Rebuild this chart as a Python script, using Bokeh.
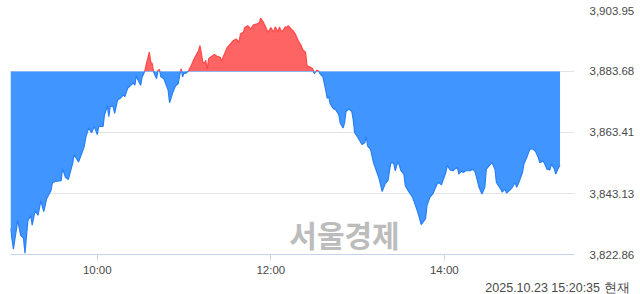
import numpy as np
from bokeh.plotting import figure
from bokeh.models import Range1d, LinearAxis, FixedTicker, NumeralTickFormatter, Label, Title
from bokeh.core.properties import value
from bokeh.embed import file_html
from bokeh.resources import INLINE

# minutes since 09:00
times = [0, 2, 5, 7, 9, 10, 12, 14, 15, 17, 19, 21, 23, 25, 28, 29, 32, 35, 36, 38,
         40, 43, 44, 47, 49, 51, 52, 54, 56, 58, 60, 61, 64, 65, 67, 68, 69, 71, 72, 74,
         76, 78, 79, 81, 82, 85, 86, 87, 88, 90, 91, 92, 93, 94, 96, 97, 98, 99, 101, 102,
         103, 104, 106, 109, 110, 112, 114, 116, 117, 118, 119, 120, 121, 123, 125, 127, 130, 131, 132, 133,
         134, 135, 136, 137, 139, 141, 143, 145, 146, 147, 148, 150, 152, 154, 156, 158, 159, 161, 162, 164,
         166, 168, 170, 172, 173, 175, 176, 178, 179, 180, 182, 183, 184, 185, 186, 187, 188, 190, 191, 192,
         194, 195, 197, 199, 201, 202, 204, 205, 207, 209, 210, 212, 213, 214, 215, 216, 218, 219, 220, 221,
         223, 225, 227, 228, 230, 231, 232, 234, 236, 237, 238, 239, 241, 243, 245, 246, 247, 249, 251, 253,
         255, 257, 259, 261, 263, 265, 266, 268, 270, 272, 273, 275, 278, 280, 282, 284, 287, 288, 290, 292,
         295, 296, 298, 299, 301, 302, 304, 306, 307, 309, 310, 312, 313, 315, 318, 319, 321, 322, 324, 326,
         328, 329, 332, 333, 335, 336, 339, 340, 342, 343, 345, 347, 349, 350, 352, 354, 355, 357, 359, 361,
         363, 365, 366, 368, 369, 371, 373, 374, 376, 377, 379, 380]

prices = [3831.5, 3824.6, 3834.2, 3829.3, 3828.2, 3823.3, 3834.1, 3835.8, 3832.6, 3837.4,
          3835.9, 3840.7, 3837.1, 3841.4, 3844.1, 3846.8, 3847.2, 3847.4, 3851.4, 3848.5,
          3847.8, 3853.2, 3856.1, 3853.6, 3856.1, 3858.8, 3861.7, 3864.9, 3863.3, 3865.4,
          3862.7, 3865.4, 3865.4, 3869.3, 3872.2, 3868.7, 3872.2, 3872.0, 3869.8, 3874.2,
          3874.8, 3875.9, 3875.3, 3878.1, 3878.6, 3879.9, 3879.1, 3882.4, 3881.0, 3879.1,
          3881.9, 3882.8, 3884.1, 3886.3, 3890.1, 3886.8, 3886.3, 3883.5, 3881.3, 3884.1,
          3884.3, 3881.9, 3881.3, 3877.5, 3873.3, 3876.4, 3878.8, 3879.7, 3882.4, 3884.6,
          3881.9, 3883.2, 3883.0, 3883.8, 3885.7, 3887.9, 3890.6, 3892.3, 3889.6, 3886.8,
          3886.3, 3887.4, 3884.3, 3887.9, 3888.7, 3889.3, 3888.7, 3888.4, 3887.1, 3888.4,
          3889.6, 3891.7, 3892.8, 3893.9, 3894.5, 3893.4, 3896.1, 3896.7, 3898.3, 3898.9,
          3897.8, 3899.2, 3899.4, 3899.9, 3901.4, 3899.9, 3898.9, 3896.7, 3897.4, 3898.3,
          3896.7, 3898.5, 3897.8, 3896.7, 3898.5, 3897.2, 3897.0, 3898.5, 3898.3, 3898.9,
          3897.8, 3897.4, 3896.1, 3893.9, 3892.3, 3890.9, 3890.1, 3885.7, 3885.2, 3884.6,
          3883.0, 3884.1, 3883.8, 3883.0, 3882.4, 3881.9, 3877.5, 3874.8, 3875.3, 3873.1,
          3871.5, 3870.9, 3869.3, 3866.6, 3864.9, 3866.6, 3870.4, 3871.2, 3870.4, 3867.6,
          3863.3, 3862.7, 3861.1, 3859.4, 3860.0, 3862.0, 3858.9, 3857.8, 3853.4, 3850.7,
          3847.9, 3843.8, 3846.3, 3847.4, 3853.4, 3853.2, 3850.7, 3853.9, 3850.7, 3849.6,
          3845.7, 3844.1, 3841.9, 3839.2, 3836.4, 3832.8, 3834.8, 3839.2, 3841.9, 3843.0,
          3846.3, 3846.8, 3846.0, 3847.4, 3850.1, 3852.5, 3851.0, 3850.7, 3851.2, 3851.8,
          3849.6, 3850.7, 3850.1, 3850.7, 3850.7, 3851.2, 3850.7, 3849.0, 3845.2, 3843.0,
          3845.2, 3851.2, 3852.9, 3853.4, 3851.2, 3846.8, 3844.6, 3843.6, 3844.6, 3843.3,
          3844.1, 3845.2, 3846.8, 3845.2, 3847.4, 3850.1, 3852.9, 3855.1, 3857.8, 3858.0,
          3857.2, 3855.1, 3853.4, 3853.9, 3853.4, 3851.2, 3851.0, 3852.9, 3851.4, 3849.6,
          3851.8, 3852.5]

prev_close = 3883.68
y_ticks = [3822.86, 3843.13, 3863.41, 3883.68, 3903.95]
x_ticks = [60, 180, 300]
x_tick_labels = ["10:00", "12:00", "14:00"]
session_end = 390
stamp = "2025.10.23 15:20:35 현재"
watermark = "서울경제"

RED_FILL, RED_LINE = "#ff6464", "#ff4848"
BLUE_FILL, BLUE_LINE = "#4195ff", "#2a7ff5"
LABEL_COLOR = "#4a4a4a"

# insert baseline crossings so the two fills meet cleanly
t = np.array(times, dtype=float)
v = np.array(prices, dtype=float)
xs, ys = [t[0]], [v[0]]
for i in range(1, len(t)):
    a, b = v[i - 1] - prev_close, v[i] - prev_close
    if a * b < 0:
        xs.append(t[i - 1] + (t[i] - t[i - 1]) * a / (a - b))
        ys.append(prev_close)
    xs.append(t[i])
    ys.append(v[i])
xs = np.array(xs)
ys = np.array(ys)
up = np.maximum(ys, prev_close)
dn = np.minimum(ys, prev_close)

p = figure(width=640, height=294, output_backend="svg", toolbar_location=None,
           x_range=Range1d(0, session_end), y_range=Range1d(y_ticks[0], y_ticks[-1]),
           y_axis_location=None, min_border_left=10, min_border_right=66,
           min_border_top=10, min_border_bottom=38)
p.outline_line_color = None
p.background_fill_color = "white"
p.border_fill_color = "white"

p.varea(x=xs, y1=prev_close, y2=up, fill_color=RED_FILL)
p.varea(x=xs, y1=dn, y2=prev_close, fill_color=BLUE_FILL)
p.line(x=[t[0], t[-1]], y=[prev_close, prev_close], line_color="#8db8f2", line_width=1)
p.line(x=xs, y=np.where(ys >= prev_close, ys, np.nan), line_color=RED_LINE, line_width=1.2)
p.line(x=xs, y=np.where(ys <= prev_close, ys, np.nan), line_color=BLUE_LINE, line_width=1.2)

# x axis
xa = p.xaxis[0]
xa.ticker = FixedTicker(ticks=x_ticks)
xa.major_label_overrides = {tk: lb for tk, lb in zip(x_ticks, x_tick_labels)}
xa.axis_line_color = "#c6d4ea"
xa.major_tick_line_color = "#c6d4ea"
xa.major_tick_out = 6
xa.major_tick_in = 0
xa.minor_tick_line_color = None
xa.major_label_standoff = 3
xa.major_label_text_font = "Liberation Sans"
xa.major_label_text_font_size = "11.5px"
xa.major_label_text_color = LABEL_COLOR
p.xgrid.grid_line_color = None

# right axis
ra = LinearAxis(ticker=FixedTicker(ticks=y_ticks), formatter=NumeralTickFormatter(format="0,0.00"))
ra.axis_line_color = None
ra.major_tick_line_color = None
ra.minor_tick_line_color = None
ra.major_tick_out = 0
ra.major_label_standoff = 15
ra.major_label_text_font = "Liberation Sans"
ra.major_label_text_font_size = "11.5px"
ra.major_label_text_color = LABEL_COLOR
p.add_layout(ra, "right")
p.ygrid.ticker = FixedTicker(ticks=y_ticks)
p.ygrid.grid_line_color = "#e3e3e3"

p.add_layout(Label(x=334, y=21, x_units="screen", y_units="screen", text=watermark,
                   text_align="center", text_baseline="middle", text_font_size="30px",
                   text_font_style="bold", text_color="#bcbcbc",
                   text_font="Noto Sans CJK KR"))
p.add_layout(Title(text=stamp, align="right", offset=-55, standoff=0,
                   text_font_size="12.5px", text_font_style="normal",
                   text_color=LABEL_COLOR, text_font="Liberation Sans"), "below")

open("out.html", "w").write(file_html(p, INLINE))
